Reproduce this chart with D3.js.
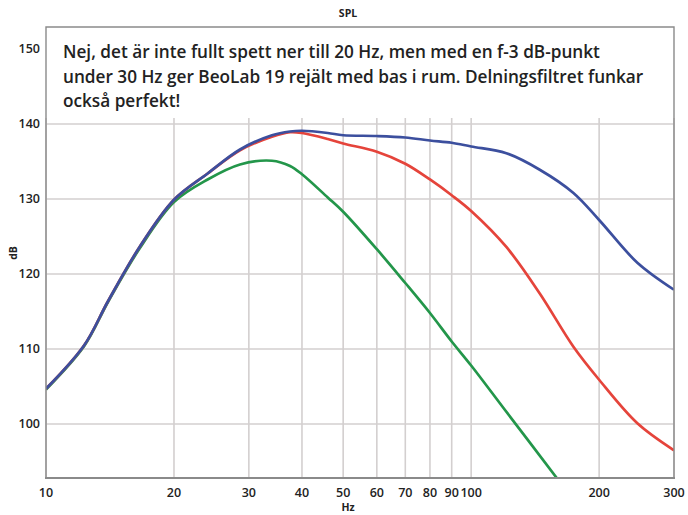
<!DOCTYPE html>
<html>
<head>
<meta charset="utf-8">
<script src="https://cdn.jsdelivr.net/npm/d3@7"></script>
<style>
  body { margin: 0; background: #fff; }
  text { font-family: "Open Sans", sans-serif; fill: #222; }
</style>
</head>
<body>
<div id="chart"></div>
<script>
// DATA
const freqs   = [10, 12.3, 14, 16.6, 20, 24, 28.6, 34, 37.5, 40, 46, 50, 60, 70, 80, 90, 100, 121, 145, 174, 200, 246, 300];
const blueDb  = [104.7, 110.5, 116.4, 123.6, 129.9, 133.4, 136.6, 138.5, 139.0, 139.1, 138.8, 138.5, 138.4, 138.2, 137.8, 137.5, 137.0, 136.1, 133.9, 130.8, 127.2, 121.5, 117.9];
const redDb   = [104.7, 110.5, 116.4, 123.6, 129.9, 133.4, 136.5, 138.3, 138.9, 138.8, 138.0, 137.4, 136.3, 134.7, 132.6, 130.5, 128.4, 123.6, 117.4, 110.3, 105.9, 100.1, 96.5];
const greenFreqs = [10, 12.3, 14, 16.6, 20, 24, 28.6, 34, 37.5, 40, 46, 50, 60, 70, 80, 90, 100, 120, 159];
const greenDb = [104.6, 110.4, 116.3, 123.4, 129.6, 132.6, 134.6, 135.1, 134.4, 133.3, 130.2, 128.3, 123.3, 118.8, 114.8, 111.0, 107.8, 101.9, 92.8];
const xTicks  = [10, 20, 30, 40, 50, 60, 70, 80, 90, 100, 200, 300];
const yTicks  = [100, 110, 120, 130, 140, 150];
const noteLines = [
  'Nej, det är inte fullt spett ner till 20 Hz, men med en f-3 dB-punkt',
  'under 30 Hz ger BeoLab 19 rejält med bas i rum. Delningsfiltret funkar',
  'också perfekt!'
];

// SETTINGS
const width = 688, height = 515;
const margin = { top: 27, right: 14, bottom: 37, left: 46 };
const gridColor = '#d3cfcf';
const axisColor = '#8a8a8a';
const colors = { blue: '#3c4f9e', red: '#e5443b', green: '#23964a' };

const svg = d3.select('#chart').append('svg')
    .attr('width', width)
    .attr('height', height);

// SCALES
const x = d3.scaleLog().domain([10, 300]).range([margin.left, width - margin.right]);
const y = d3.scaleLinear().domain([92.8, 152.93]).range([height - margin.bottom, margin.top]);

// GRID
const grid = svg.append('g');
grid.selectAll('.vgrid').data(xTicks).enter().append('line')
    .attr('x1', d => x(d)).attr('x2', d => x(d))
    .attr('y1', 118).attr('y2', y.range()[0])
    .attr('stroke', gridColor).attr('stroke-width', 1.6);
grid.selectAll('.hgrid').data(yTicks.filter(d => d < 145)).enter().append('line')
    .attr('x1', x.range()[0]).attr('x2', x.range()[1])
    .attr('y1', d => y(d)).attr('y2', d => y(d))
    .attr('stroke', gridColor).attr('stroke-width', 1.6);

// CURVES
svg.append('clipPath').attr('id', 'clip')
  .append('rect')
    .attr('x', x.range()[0]).attr('y', margin.top)
    .attr('width', x.range()[1] - x.range()[0])
    .attr('height', y.range()[0] - margin.top);

const line = d3.line()
    .x(d => x(d[0]))
    .y(d => y(d[1]))
    .curve(d3.curveCatmullRom.alpha(0.5));

const curves = svg.append('g').attr('clip-path', 'url(#clip)');
[
  [greenFreqs, greenDb, colors.green],
  [freqs, redDb, colors.red],
  [freqs, blueDb, colors.blue]
].forEach(([fs, vals, c]) => {
  curves.append('path')
    .datum(fs.map((f, i) => [f, vals[i]]))
    .attr('fill', 'none')
    .attr('stroke', c)
    .attr('stroke-width', 2.7)
    .attr('stroke-linejoin', 'round')
    .attr('d', line);
});

// NOTE BOX
svg.append('rect')
    .attr('x', x.range()[0]).attr('y', margin.top)
    .attr('width', x.range()[1] - x.range()[0]).attr('height', 90)
    .attr('fill', '#fff');
svg.append('path')
    .attr('d', `M${x.range()[0]},${y.range()[0]}V${margin.top}H${x.range()[1]}V${y.range()[0]}`)
    .attr('fill', 'none').attr('stroke', axisColor).attr('stroke-width', 1.4);
svg.append('line')
    .attr('x1', x.range()[0] - 1).attr('x2', x.range()[1] + 1)
    .attr('y1', y.range()[0]).attr('y2', y.range()[0])
    .attr('stroke', axisColor).attr('stroke-width', 2.2);

svg.append('g').selectAll('text').data(noteLines).enter().append('text')
    .attr('x', 63)
    .attr('y', (d, i) => 58 + i * 24.5)
    .attr('font-size', 17.2)
    .attr('font-weight', 600)
    .attr('fill', '#1a1a1a')
    .text(d => d);

// AXIS LABELS
svg.append('g').selectAll('text').data(yTicks).enter().append('text')
    .attr('x', 40).attr('y', d => y(d) + 4.5)
    .attr('text-anchor', 'end')
    .attr('font-size', 12.5).attr('font-weight', 600)
    .text(d => d);

svg.append('g').selectAll('text').data(xTicks).enter().append('text')
    .attr('x', d => x(d)).attr('y', 497)
    .attr('text-anchor', 'middle')
    .attr('font-size', 12.5).attr('font-weight', 600)
    .text(d => d);

svg.append('text').attr('x', 348).attr('y', 17)
    .attr('text-anchor', 'middle').attr('font-size', 10.5).attr('font-weight', 700)
    .text('SPL');
svg.append('text').attr('x', 348).attr('y', 511)
    .attr('text-anchor', 'middle').attr('font-size', 10.5).attr('font-weight', 700)
    .text('Hz');
svg.append('text')
    .attr('transform', 'translate(17,253) rotate(-90)')
    .attr('text-anchor', 'middle').attr('font-size', 10.5).attr('font-weight', 700)
    .text('dB');
</script>
</body>
</html>
